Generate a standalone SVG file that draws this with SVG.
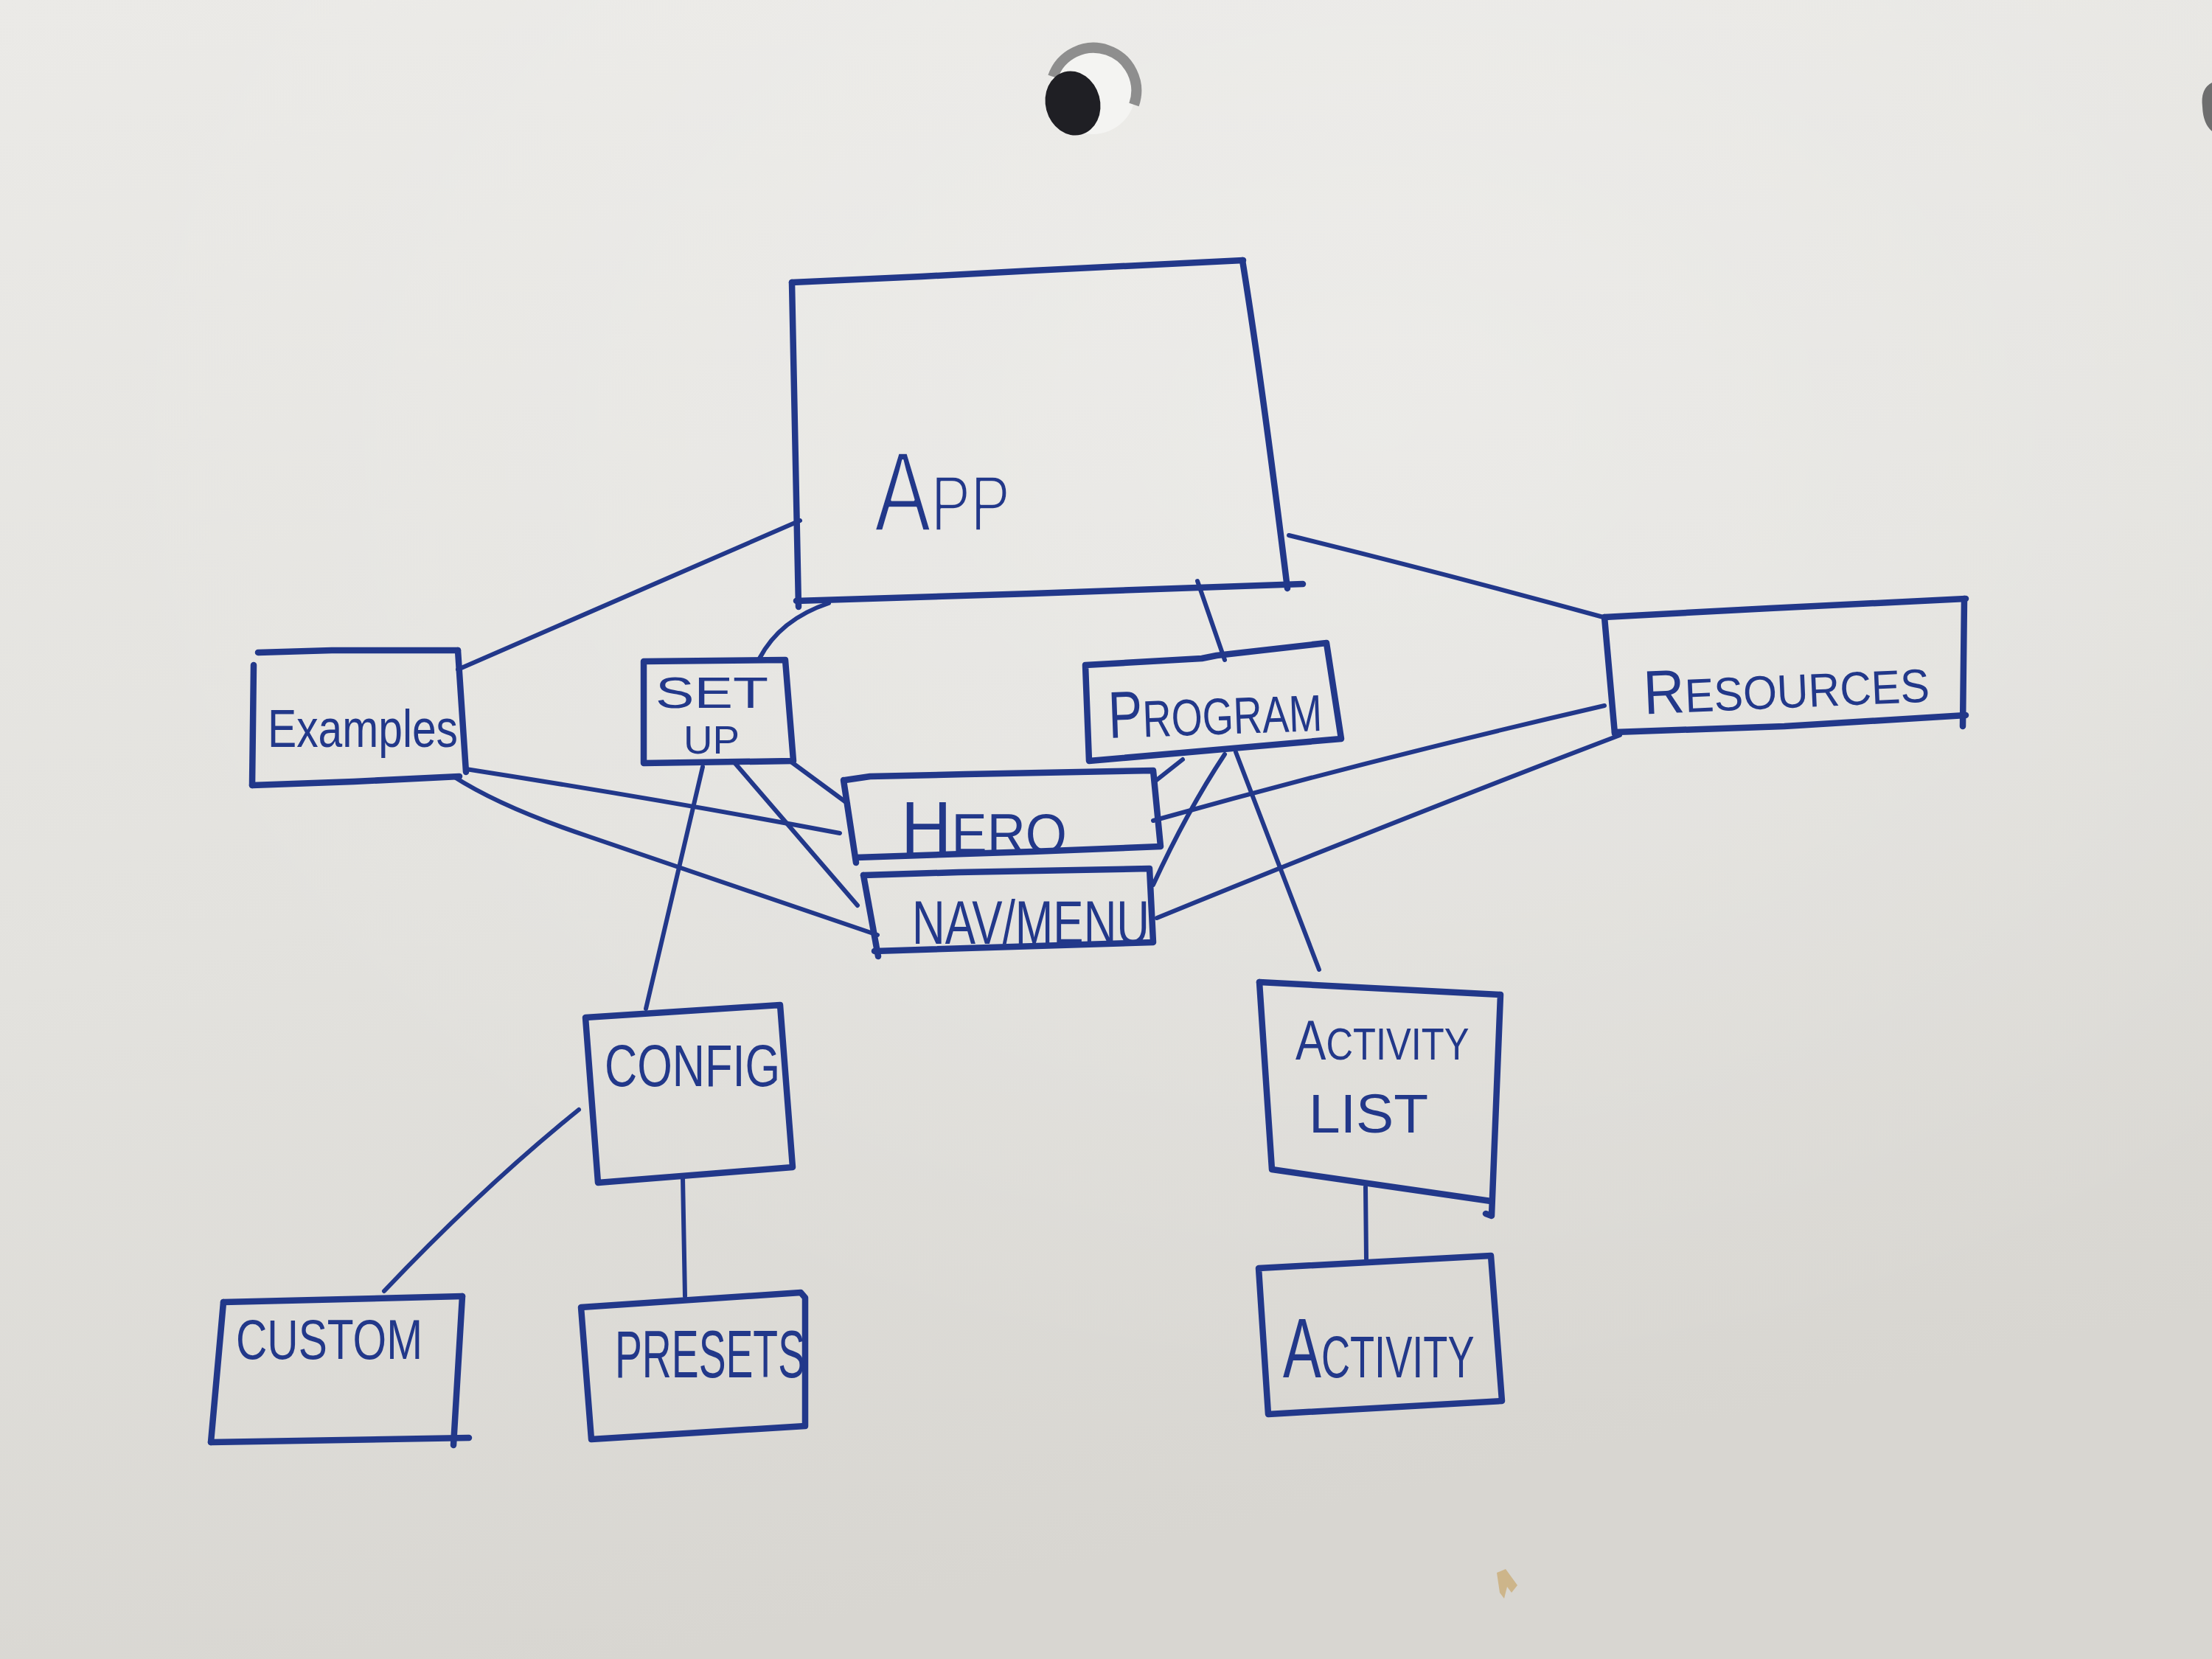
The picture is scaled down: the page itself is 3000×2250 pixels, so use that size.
<svg xmlns="http://www.w3.org/2000/svg" width="3000" height="2250" viewBox="0 0 3000 2250">
<defs>
<linearGradient id="paper" x1="0" y1="0" x2="0.3" y2="1">
<stop offset="0" stop-color="#ebeae7"/>
<stop offset="0.55" stop-color="#e3e2de"/>
<stop offset="1" stop-color="#d8d6d1"/>
</linearGradient>
<radialGradient id="glow" cx="0.62" cy="0.25" r="0.6">
<stop offset="0" stop-color="#ffffff" stop-opacity="0.25"/>
<stop offset="1" stop-color="#ffffff" stop-opacity="0"/>
</radialGradient>
<style>
.box{fill:none;stroke:#22388a;stroke-width:8.5;stroke-linecap:round;stroke-linejoin:round}
.con{fill:none;stroke:#22388a;stroke-width:6;stroke-linecap:round;stroke-linejoin:round}
.lbl{fill:#22388a;font-family:"Liberation Sans","DejaVu Sans",sans-serif}
.thin{fill:#22388a;stroke:#e9e8e5;stroke-width:3.5;stroke-linejoin:round;font-family:"Liberation Sans","DejaVu Sans",sans-serif;font-variant:small-caps}
</style>
</defs>
<rect x="0" y="0" width="3000" height="2250" fill="url(#paper)"/>
<rect x="0" y="0" width="3000" height="2250" fill="url(#glow)"/>

<g id="punch-hole">
<circle cx="1482" cy="124" r="58" fill="#f4f4f2"/>
<path d="M1428,104 A58,58 0 0 1 1538,142" fill="none" stroke="#8e8e8e" stroke-width="14"/>
<ellipse cx="1455" cy="140" rx="37" ry="44" fill="#1f1f24" transform="rotate(-15 1455 140)"/>
</g>
<path id="edge-hole" d="M3000,112 Q2984,120 2987,145 Q2988,168 3000,178 Z" fill="#6e6e6e"/>
<path id="crumb" d="M2030,2133 L2042,2128 L2058,2150 L2050,2160 L2044,2152 L2040,2168 L2034,2160 Z" fill="#cdb58a"/>

<g id="connectors">
<path class="con" d="M1085,706 L621,908"/>
<path class="con" d="M1124,818 Q1058,840 1030,893"/>
<path class="con" d="M1624,788 L1661,895"/>
<path class="con" d="M1748,726 Q1960,778 2178,838"/>
<path class="con" d="M632,1043 Q900,1085 1139,1130"/>
<path class="con" d="M615,1053 Q680,1095 800,1135 L1190,1268"/>
<path class="con" d="M1074,1034 L1150,1090"/>
<path class="con" d="M995,1033 Q1070,1120 1163,1228"/>
<path class="con" d="M953,1040 Q915,1200 876,1368"/>
<path class="con" d="M1604,1030 L1566,1060"/>
<path class="con" d="M1661,1023 Q1610,1100 1564,1200"/>
<path class="con" d="M1676,1020 L1789,1315"/>
<path class="con" d="M2176,957 Q1860,1030 1564,1113"/>
<path class="con" d="M2197,997 Q1900,1110 1569,1245"/>
<path class="con" d="M785,1505 Q655,1610 521,1751"/>
<path class="con" d="M926,1597 L929,1758"/>
<path class="con" d="M1852,1610 L1853,1707"/>
</g>

<g id="node-app">
<path class="box" d="M1074,383 L1250,375 L1400,367 L1686,353"/>
<path class="box" d="M1685,353 Q1712,520 1746,798"/>
<path class="box" d="M1080,815 L1400,805 L1767,792"/>
<path class="box" d="M1074,383 L1083,823"/>
<text class="thin" x="1186" y="720" font-size="154" textLength="184" lengthAdjust="spacingAndGlyphs">App</text>
</g>

<g id="node-examples">
<path class="box" d="M350,885 L450,882 L621,882"/>
<path class="box" d="M621,882 L632,1047"/>
<path class="box" d="M342,1065 L480,1060 L623,1053"/>
<path class="box" d="M344,902 L342,1065"/>
<text class="lbl" x="363" y="1013" font-size="72" textLength="258" lengthAdjust="spacingAndGlyphs">Examples</text>
</g>

<g id="node-setup">
<path class="box" d="M873,897 L1065,895 L1076,1032 L873,1035 Z"/>
<text class="lbl" x="889" y="960" font-size="60" textLength="153" lengthAdjust="spacingAndGlyphs">SET</text>
<text class="lbl" x="927" y="1022" font-size="54" textLength="76" lengthAdjust="spacingAndGlyphs">UP</text>
</g>

<g id="node-program">
<path class="box" d="M1472,902 L1630,893 L1650,889 L1799,872 L1819,1002 L1477,1032 Z"/>
<text class="lbl" x="1503" y="996" textLength="290" lengthAdjust="spacingAndGlyphs" transform="rotate(-2 1648 970)"><tspan font-size="90">P</tspan><tspan font-size="70">ROGRAM</tspan></text>
</g>

<g id="node-resources">
<path class="box" d="M2176,837 L2400,825 L2666,812"/>
<path class="box" d="M2664,812 L2662,985"/>
<path class="box" d="M2190,993 L2420,985 L2666,970"/>
<path class="box" d="M2176,837 L2190,995"/>
<text class="lbl" x="2229" y="960" textLength="388" lengthAdjust="spacingAndGlyphs" transform="rotate(-2.5 2423 940)"><tspan font-size="84">R</tspan><tspan font-size="64">ESOURCES</tspan></text>
</g>

<g id="node-hero">
<path class="box" d="M1146,1058 L1180,1053 L1310,1050 L1564,1045 L1574,1148 L1400,1155 L1161,1163"/>
<path class="box" d="M1144,1058 L1161,1170"/>
<text class="lbl" x="1222" y="1157" textLength="225" lengthAdjust="spacingAndGlyphs"><tspan font-size="100">H</tspan><tspan font-size="76">ERO</tspan></text>
</g>

<g id="node-navmenu">
<path class="box" d="M1171,1187 L1300,1183 L1559,1178 L1564,1278 L1186,1290"/>
<path class="box" d="M1171,1187 L1191,1297"/>
<text class="lbl" x="1237" y="1280" font-size="84" textLength="322" lengthAdjust="spacingAndGlyphs">NAV/MENU</text>
</g>

<g id="node-config">
<path class="box" d="M794,1380 L1058,1363 L1075,1583 L811,1604 Z"/>
<text class="lbl" x="820" y="1473" font-size="80" textLength="238" lengthAdjust="spacingAndGlyphs">CONFIG</text>
</g>

<g id="node-custom">
<path class="box" d="M303,1766 L627,1758"/>
<path class="box" d="M627,1758 L615,1960"/>
<path class="box" d="M286,1956 L636,1950"/>
<path class="box" d="M303,1766 L286,1956"/>
<text class="lbl" x="320" y="1843" font-size="76" textLength="253" lengthAdjust="spacingAndGlyphs">CUSTOM</text>
</g>

<g id="node-presets">
<path class="box" d="M788,1773 L1086,1753 L1092,1760 L1092,1934 L802,1952 Z"/>
<text class="lbl" x="834" y="1868" font-size="90" textLength="258" lengthAdjust="spacingAndGlyphs">PRESETS</text>
</g>

<g id="node-activity-list">
<path class="box" d="M1708,1332 L2035,1349 L2023,1649 L2015,1646"/>
<path class="box" d="M1708,1332 L1725,1586 L2022,1629"/>
<text class="lbl" transform="translate(1757,1437) scale(0.817,1)"><tspan font-size="76">A</tspan><tspan font-size="62">CTIVITY</tspan></text>
<text class="lbl" x="1775" y="1536" font-size="75" textLength="162" lengthAdjust="spacingAndGlyphs">LIST</text>
</g>

<g id="node-activity">
<path class="box" d="M1707,1720 L2022,1703 L2037,1900 L1720,1918 Z"/>
<text class="lbl" transform="translate(1740,1868) scale(0.677,1)"><tspan font-size="115">A</tspan><tspan font-size="80">CTIVITY</tspan></text>
</g>
</svg>
